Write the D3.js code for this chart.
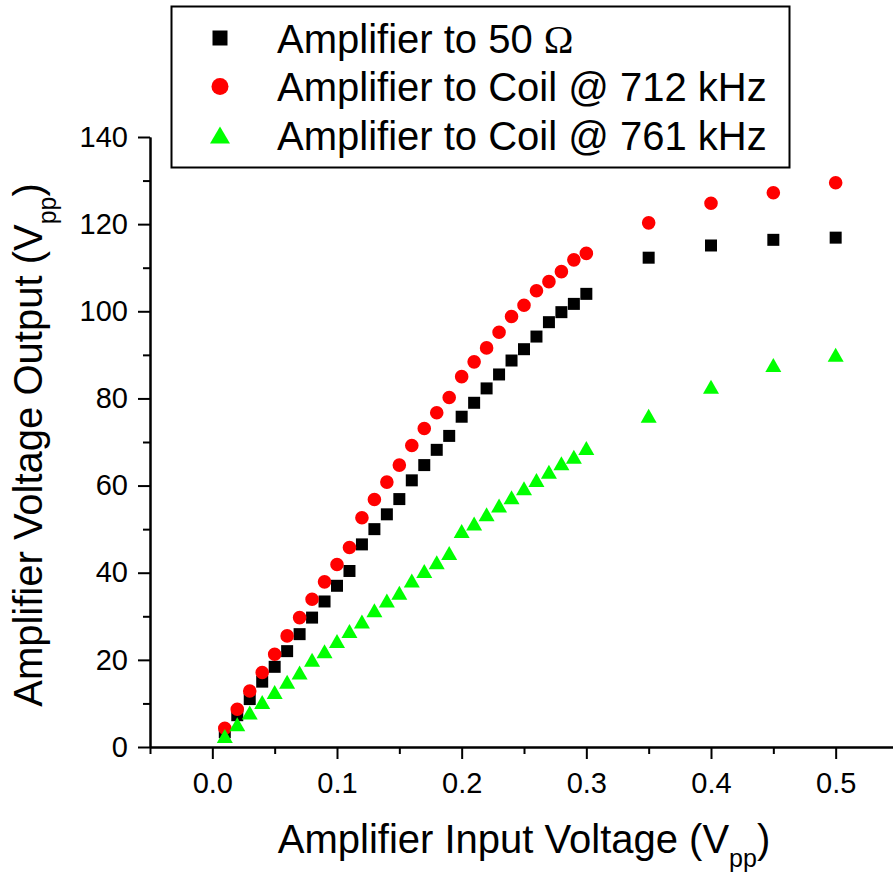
<!DOCTYPE html>
<html>
<head>
<meta charset="utf-8">
<script src="https://cdn.jsdelivr.net/npm/d3@7"></script>
<style>
    body { margin: 0; background: #fff; }
    svg { display: block; font-family: "Liberation Sans", Arial, sans-serif; }
</style>
</head>
<body>
<div id="chart"></div>
<script>
// input voltage (Vpp)
const inputV = [0.01, 0.02, 0.03, 0.04, 0.05, 0.06, 0.07, 0.08, 0.09, 0.10,
                0.11, 0.12, 0.13, 0.14, 0.15, 0.16, 0.17, 0.18, 0.19, 0.20,
                0.21, 0.22, 0.23, 0.24, 0.25, 0.26, 0.27, 0.28, 0.29, 0.30,
                0.35, 0.40, 0.45, 0.50];

// output voltage (Vpp), one list per load
const out50 = [3.4, 7.3, 11.0, 15.0, 18.4, 22.0, 25.9, 29.7, 33.4, 37.0,
               40.4, 46.5, 50.0, 53.4, 56.9, 61.2, 64.7, 68.2, 71.4, 75.8,
               79.0, 82.3, 85.5, 88.7, 91.3, 94.2, 97.5, 99.8, 101.7, 104.0,
               112.3, 115.1, 116.4, 116.9];
const out712 = [4.3, 8.65, 12.85, 17.1, 21.3, 25.5, 29.7, 33.9, 37.9, 41.9,
                45.8, 52.6, 56.8, 60.8, 64.7, 69.2, 73.1, 76.7, 80.2, 85.0,
                88.4, 91.6, 95.2, 98.8, 101.4, 104.7, 106.8, 109.1, 111.8, 113.3,
                120.3, 124.8, 127.2, 129.5];
const out761 = [2.5, 5.2, 7.9, 10.3, 12.6, 15.0, 17.1, 20.0, 22.0, 24.3,
                26.6, 28.8, 31.4, 33.6, 35.4, 38.2, 40.4, 42.4, 44.5, 49.6,
                51.3, 53.4, 55.4, 57.3, 59.4, 61.3, 63.2, 65.1, 66.6, 68.6,
                76.0, 82.7, 87.7, 90.0];

const seriesNames = ['Amplifier to 50 ', 'Amplifier to Coil @ 712 kHz', 'Amplifier to Coil @ 761 kHz'];

const xMajorTicks = [0, 0.1, 0.2, 0.3, 0.4, 0.5];
const xMinorTicks = [-0.05, 0.05, 0.15, 0.25, 0.35, 0.45, 0.55];
const yMajorTicks = [0, 20, 40, 60, 80, 100, 120, 140];
const yMinorTicks = [10, 30, 50, 70, 90, 110, 130];

const W = 893, H = 878;
const margin = { top: 137, right: -5, bottom: 131, left: 150 };
const width = W - margin.left - margin.right;
const height = H - margin.top - margin.bottom;

const svg = d3.select('#chart')
    .append('svg')
    .attr('width', W)
    .attr('height', H);

const g = svg.append('g')
    .attr('transform', `translate(${margin.left},${margin.top})`);

const x = d3.scaleLinear().domain([-0.05, 0.55]).range([0, width]);
const y = d3.scaleLinear().domain([0, 140]).range([height, 0]);

// axes: minor ticks first, then the labelled majors
function styleAxis(sel) {
    sel.selectAll('path, line').attr('stroke', '#000').attr('stroke-width', 2);
    sel.selectAll('text').attr('font-size', 29).attr('fill', '#000');
}

g.append('g')
    .attr('transform', `translate(0,${height})`)
    .call(d3.axisBottom(x).tickValues(xMinorTicks).tickSize(7).tickSizeOuter(0).tickFormat(''))
    .call(styleAxis);
g.append('g')
    .attr('transform', `translate(0,${height})`)
    .call(d3.axisBottom(x).tickValues(xMajorTicks).tickSize(12).tickSizeOuter(0)
        .tickPadding(13).tickFormat(d3.format('.1f')))
    .call(styleAxis);

g.append('g')
    .call(d3.axisLeft(y).tickValues(yMinorTicks).tickSize(7).tickSizeOuter(0).tickFormat(''))
    .call(styleAxis);
g.append('g')
    .call(d3.axisLeft(y).tickValues(yMajorTicks).tickSize(12).tickSizeOuter(0)
        .tickPadding(10).tickFormat(d3.format('d')))
    .call(styleAxis);

// axis titles
const xTitle = svg.append('text')
    .attr('x', 524)
    .attr('y', 853)
    .attr('text-anchor', 'middle')
    .attr('font-size', 40);
xTitle.append('tspan').text('Amplifier Input Voltage (V');
xTitle.append('tspan').attr('dy', 14).attr('font-size', 25).text('pp');
xTitle.append('tspan').attr('dy', -14).text(')');

const yTitle = svg.append('text')
    .attr('transform', 'translate(42,445) rotate(-90)')
    .attr('text-anchor', 'middle')
    .attr('font-size', 40);
yTitle.append('tspan').text('Amplifier Voltage Output (V');
yTitle.append('tspan').attr('dy', 14).attr('font-size', 25).text('pp');
yTitle.append('tspan').attr('dy', -14).text(')');

// marker shapes
const square = s => `M${-s / 2},${-s / 2}h${s}v${s}h${-s}Z`;
const circle = r => `M${r},0A${r},${r} 0 1,1 ${-r},0A${r},${r} 0 1,1 ${r},0Z`;
const triangle = (w, h) => `M0,${-h / 2}L${w / 2},${h / 2}L${-w / 2},${h / 2}Z`;

const series = [
    { name: seriesNames[0], values: out50, color: '#000000', shape: square(12), legendShape: square(15) },
    { name: seriesNames[1], values: out712, color: '#ff0000', shape: circle(6.8), legendShape: circle(8.5) },
    { name: seriesNames[2], values: out761, color: '#00ff00', shape: triangle(16, 14), legendShape: triangle(20, 17) }
];

series.forEach(s => {
    g.append('g')
        .selectAll('path')
        .data(inputV.map((v, i) => [v, s.values[i]]))
        .join('path')
        .attr('d', s.shape)
        .attr('fill', s.color)
        .attr('transform', d => `translate(${x(d[0])},${y(d[1])})`);
});

// legend
const legend = svg.append('g');
legend.append('rect')
    .attr('x', 171.5)
    .attr('y', 6.5)
    .attr('width', 618)
    .attr('height', 161)
    .attr('fill', '#fff')
    .attr('stroke', '#000')
    .attr('stroke-width', 2);

series.forEach((s, i) => {
    const ly = 38 + i * 48.5;
    legend.append('path')
        .attr('d', s.legendShape)
        .attr('fill', s.color)
        .attr('transform', `translate(220,${ly})`);
    const t = legend.append('text')
        .attr('x', 277)
        .attr('y', ly + 14.5)
        .attr('font-size', 40)
        .text(s.name);
    if (i === 0) {
        t.append('tspan').attr('font-family', '"Liberation Serif", "Times New Roman", serif').text('Ω');
    }
});
</script>
</body>
</html>
